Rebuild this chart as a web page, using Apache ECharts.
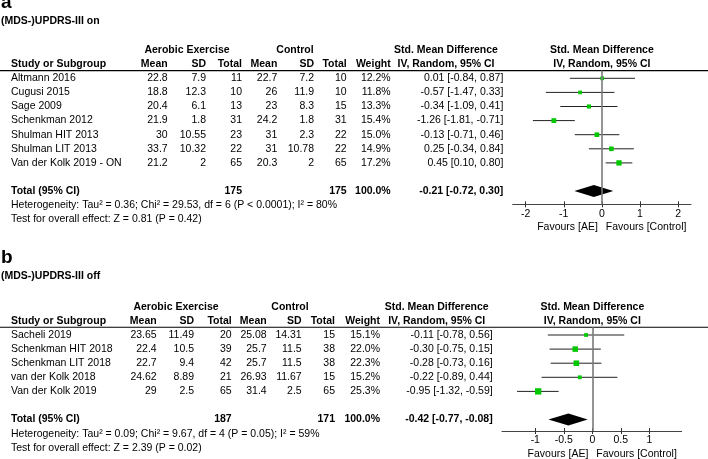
<!DOCTYPE html>
<html><head><meta charset="utf-8">
<script src="https://cdn.jsdelivr.net/npm/echarts@6.0.0/dist/echarts.min.js"></script>
<style>html,body{margin:0;padding:0;background:#fff}#c{width:708px;height:459px}</style>
</head><body><div id="c"></div>
<script>
// ---------- Panel a data ----------
const studiesA = ['Altmann 2016','Cugusi 2015','Sage 2009','Schenkman 2012','Shulman HIT 2013','Shulman LIT 2013','Van der Kolk 2019 - ON'];
const aeMeanA = [22.8, 18.8, 20.4, 21.9, 30, 33.7, 21.2];
const aeSdA   = [7.9, 12.3, 6.1, 1.8, 10.55, 10.32, 2];
const aeNA    = [11, 10, 13, 31, 23, 22, 65];
const ctMeanA = [22.7, 26, 23, 24.2, 31, 31, 20.3];
const ctSdA   = [7.2, 11.9, 8.3, 1.8, 2.3, 10.78, 2];
const ctNA    = [10, 10, 15, 31, 22, 22, 65];
const weightA = [12.2, 11.8, 13.3, 15.4, 15.0, 14.9, 17.2];
const smdA    = [0.01, -0.57, -0.34, -1.26, -0.13, 0.25, 0.45];
const loA     = [-0.84, -1.47, -1.09, -1.81, -0.71, -0.34, 0.10];
const hiA     = [0.87, 0.33, 0.41, -0.71, 0.46, 0.84, 0.80];
const totalNA = [175, 175];
const totalEstA = [-0.21, -0.72, 0.30];
const hetA  = 'Heterogeneity: Tau² = 0.36; Chi² = 29.53, df = 6 (P < 0.0001); I² = 80%';
const testA = 'Test for overall effect: Z = 0.81 (P = 0.42)';
const ticksA = [-2, -1, 0, 1, 2];

// ---------- Panel b data ----------
const studiesB = ['Sacheli 2019','Schenkman HIT 2018','Schenkman LIT 2018','van der Kolk 2018','Van der Kolk 2019'];
const aeMeanB = [23.65, 22.4, 22.7, 24.62, 29];
const aeSdB   = [11.49, 10.5, 9.4, 8.89, 2.5];
const aeNB    = [20, 39, 42, 21, 65];
const ctMeanB = [25.08, 25.7, 25.7, 26.93, 31.4];
const ctSdB   = [14.31, 11.5, 11.5, 11.67, 2.5];
const ctNB    = [15, 38, 38, 15, 65];
const weightB = [15.1, 22.0, 22.3, 15.2, 25.3];
const smdB    = [-0.11, -0.30, -0.28, -0.22, -0.95];
const loB     = [-0.78, -0.75, -0.73, -0.89, -1.32];
const hiB     = [0.56, 0.15, 0.16, 0.44, -0.59];
const totalNB = [187, 171];
const totalEstB = [-0.42, -0.77, -0.08];
const hetB  = 'Heterogeneity: Tau² = 0.09; Chi² = 9.67, df = 4 (P = 0.05); I² = 59%';
const testB = 'Test for overall effect: Z = 2.39 (P = 0.02)';
const ticksB = [-1, -0.5, 0, 0.5, 1];

const FONT = '"Liberation Sans", Arial, Helvetica, sans-serif';
const FS = 10.5;

const panels = [
  { letter:'a', title:'(MDS-)UPDRS-III on', studies:studiesA, aeMean:aeMeanA, aeSd:aeSdA, aeN:aeNA,
    ctMean:ctMeanA, ctSd:ctSdA, ctN:ctNA, weight:weightA, smd:smdA, lo:loA, hi:hiA,
    totalN:totalNA, totalEst:totalEstA, het:hetA, test:testA, ticks:ticksA,
    lay:{ letterY:2.5, titleY:21.5, rowTop:78.3, step:14.1, totalRow:8,
      cMean:167.7, cSd:206, cN:242, cCMean:277.3, cCSd:314, cCN:346.7, cW:390.7, cCI:503.3,
      gAE:187, gCt:295, hSMD:446, plotL:512.7, plotR:691, axisY:204.3, xmin:-2.34, xmax:2.34, symK:0.31 } },
  { letter:'b', title:'(MDS-)UPDRS-III off', studies:studiesB, aeMean:aeMeanB, aeSd:aeSdB, aeN:aeNB,
    ctMean:ctMeanB, ctSd:ctSdB, ctN:ctNB, weight:weightB, smd:smdB, lo:loB, hi:hiB,
    totalN:totalNB, totalEst:totalEstB, het:hetB, test:testB, ticks:ticksB,
    lay:{ letterY:258, titleY:276, rowTop:335, step:14.1, totalRow:6,
      cMean:156.7, cSd:194, cN:231.7, cCMean:266.7, cCSd:301.7, cCN:335, cW:380, cCI:492.7,
      gAE:176, gCt:290, hSMD:436.7, plotL:502, plotR:681.7, axisY:431, xmin:-1.584, xmax:1.568, symK:0.25 } }
];

function T(x, y, text, o) {
  o = o || {};
  return { type:'text', x:x, y:y, silent:true,
    style:{ text:text, fill:'#000', align:o.align||'left', verticalAlign:'middle',
      font:(o.bold?'bold ':'') + (o.size||FS) + 'px ' + FONT } };
}
const fmtCI = (e,l,h) => e.toFixed(2) + ' [' + l.toFixed(2) + ', ' + h.toFixed(2) + ']';

const graphic = [];
const grid = [], xAxis = [], yAxis = [], series = [];

panels.forEach((p, g) => {
  const L = p.lay;
  const ry = i => L.rowTop + i * L.step;
  const zeroX = L.plotL + (0 - L.xmin) / (L.xmax - L.xmin) * (L.plotR - L.plotL);
  const lineY = ry(-0.55);
  graphic.push(T(1, L.letterY, p.letter, {bold:true, size:19}));
  graphic.push(T(1, L.titleY, p.title, {bold:true, size:10.5}));
  // group headers
  graphic.push(T(L.gAE, ry(-2), 'Aerobic Exercise', {bold:true, align:'center'}));
  graphic.push(T(L.gCt, ry(-2), 'Control', {bold:true, align:'center'}));
  graphic.push(T(L.hSMD, ry(-2), 'Std. Mean Difference', {bold:true, align:'center'}));
  graphic.push(T(zeroX, ry(-2), 'Std. Mean Difference', {bold:true, align:'center'}));
  // column headers
  graphic.push(T(11, ry(-1), 'Study or Subgroup', {bold:true}));
  [['Mean',L.cMean],['SD',L.cSd],['Total',L.cN],['Mean',L.cCMean],['SD',L.cCSd],['Total',L.cCN],['Weight',L.cW]]
    .forEach(c => graphic.push(T(c[1], ry(-1), c[0], {bold:true, align:'right'})));
  graphic.push(T(L.hSMD, ry(-1), 'IV, Random, 95% CI', {bold:true, align:'center'}));
  graphic.push(T(zeroX, ry(-1), 'IV, Random, 95% CI', {bold:true, align:'center'}));
  graphic.push({ type:'line', silent:true, shape:{x1:0, y1:lineY, x2:708, y2:lineY}, style:{stroke:'#000', lineWidth:1.2} });
  // rows
  p.studies.forEach((s, i) => {
    const y = ry(i);
    graphic.push(T(11, y, s));
    graphic.push(T(L.cMean, y, String(p.aeMean[i]), {align:'right'}));
    graphic.push(T(L.cSd, y, String(p.aeSd[i]), {align:'right'}));
    graphic.push(T(L.cN, y, String(p.aeN[i]), {align:'right'}));
    graphic.push(T(L.cCMean, y, String(p.ctMean[i]), {align:'right'}));
    graphic.push(T(L.cCSd, y, String(p.ctSd[i]), {align:'right'}));
    graphic.push(T(L.cCN, y, String(p.ctN[i]), {align:'right'}));
    graphic.push(T(L.cW, y, p.weight[i].toFixed(1) + '%', {align:'right'}));
    graphic.push(T(L.cCI, y, fmtCI(p.smd[i], p.lo[i], p.hi[i]), {align:'right'}));
  });
  const ty = ry(L.totalRow);
  graphic.push(T(11, ty, 'Total (95% CI)', {bold:true}));
  graphic.push(T(L.cN, ty, String(p.totalN[0]), {bold:true, align:'right'}));
  graphic.push(T(L.cCN, ty, String(p.totalN[1]), {bold:true, align:'right'}));
  graphic.push(T(L.cW, ty, '100.0%', {bold:true, align:'right'}));
  graphic.push(T(L.cCI, ty, fmtCI(p.totalEst[0], p.totalEst[1], p.totalEst[2]), {bold:true, align:'right'}));
  graphic.push(T(11, ry(L.totalRow + 1), p.het));
  graphic.push(T(11, ry(L.totalRow + 2), p.test));
  graphic.push(T(zeroX - 4, L.axisY + 23, 'Favours [AE]', {align:'right'}));
  graphic.push(T(zeroX + 4, L.axisY + 23, 'Favours [Control]'));

  // plot grid
  grid.push({ left:L.plotL, width:L.plotR - L.plotL, top:lineY, height:L.axisY - lineY });
  yAxis.push({ gridIndex:g, type:'value', inverse:true, show:false,
    min:(lineY - L.rowTop) / L.step, max:(L.axisY - L.rowTop) / L.step });
  xAxis.push({ gridIndex:g, type:'value', position:'bottom', min:L.xmin, max:L.xmax,
    axisLine:{ show:true, onZero:false, lineStyle:{ color:'#444', width:1 } },
    axisTick:{ show:true, inside:true, length:3, customValues:p.ticks, lineStyle:{ color:'#333', width:1 } },
    axisLabel:{ show:true, customValues:p.ticks, formatter:v => String(v), margin:4,
      fontSize:FS, color:'#000', fontFamily:FONT },
    splitLine:{ show:false } });
  xAxis.push({ gridIndex:g, type:'value', position:'bottom', min:L.xmin, max:L.xmax,
    axisLine:{ show:false, onZero:false },
    axisTick:{ show:true, inside:false, length:3, customValues:p.ticks, lineStyle:{ color:'#333', width:1 } },
    axisLabel:{ show:false }, splitLine:{ show:false } });
  const xi = g * 2;
  series.push({ type:'custom', xAxisIndex:xi, yAxisIndex:g, silent:true, z:2,
    data:p.studies.map((s, i) => [p.lo[i], p.hi[i], i]),
    encode:{ x:[0,1], y:2 },
    renderItem:(params, api) => {
      const a = api.coord([api.value(0), api.value(2)]);
      const b = api.coord([api.value(1), api.value(2)]);
      return { type:'line', shape:{ x1:a[0], y1:a[1], x2:b[0], y2:b[1] }, style:{ stroke:'#222', lineWidth:1 } };
    } });
  series.push({ type:'scatter', xAxisIndex:xi, yAxisIndex:g, silent:true, z:3,
    symbol:'rect', symbolSize:(v, prm) => p.weight[prm.dataIndex] * L.symK,
    itemStyle:{ color:'#00c800', opacity:1 },
    data:p.studies.map((s, i) => [p.smd[i], i]),
    markLine:{ silent:true, symbol:'none', label:{ show:false }, animation:false,
      lineStyle:{ color:'#7a7a7a', width:1.6, type:'solid' }, data:[{ xAxis:0 }] } });
  series.push({ type:'custom', xAxisIndex:xi, yAxisIndex:g, silent:true, z:4,
    data:[[p.totalEst[1], p.totalEst[0], p.totalEst[2], L.totalRow]],
    encode:{ x:[0,1,2], y:3 },
    renderItem:(params, api) => {
      const r = api.value(3);
      const l = api.coord([api.value(0), r]);
      const m = api.coord([api.value(1), r]);
      const h = api.coord([api.value(2), r]);
      return { type:'polygon', shape:{ points:[[l[0], l[1]], [m[0], m[1] - 6], [h[0], h[1]], [m[0], m[1] + 6]] },
        style:{ fill:'#000' } };
    } });
});

const chart = echarts.init(document.getElementById('c'), null, { renderer:'canvas' });
chart.setOption({ animation:false, backgroundColor:'#fff', grid, xAxis, yAxis, series, graphic });
</script></body></html>
